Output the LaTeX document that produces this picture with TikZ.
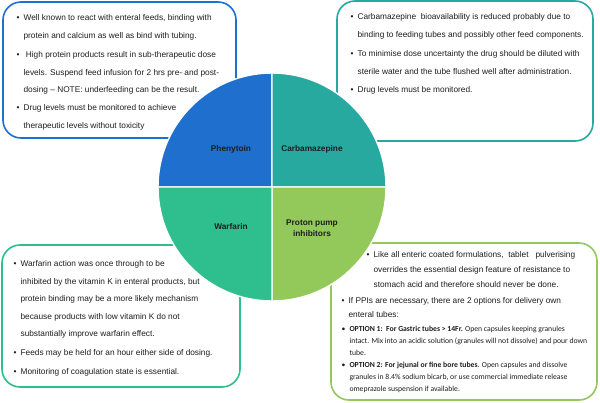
\documentclass[tikz,border=0pt]{standalone}
\usepackage{fontspec}
\setmainfont{Liberation Sans}
\newfontfamily\optfont{Carlito}

\definecolor{phencol}{HTML}{1F6FCF}
\definecolor{carbcol}{HTML}{27A99F}
\definecolor{warfcol}{HTML}{2FBE8E}
\definecolor{ppicol}{HTML}{93C85B}
\definecolor{txtcol}{HTML}{1E1E1E}

\newcommand{\bitem}[1]{\begin{tabular}[t]{@{}l@{\hspace{4pt}}l@{}}\textbullet & #1\end{tabular}}

\tikzset{
  box/.style={line width=1.6pt, rounded corners=18pt, fill=white},
  quad/.style={draw=white, line width=1.4pt},
  drug/.style={font=\fontsize{8.3}{11}\selectfont\bfseries, text=txtcol, align=center, inner sep=0pt},
  note/.style={anchor=base west, inner sep=0pt, text=txtcol, font=\fontsize{8.3}{17.5}\selectfont},
  notetight/.style={note, font=\fontsize{8.3}{15}\selectfont},
  optnote/.style={note, font=\optfont\fontsize{7.7}{12}\selectfont}
}

\begin{document}
\begin{tikzpicture}[x=1pt, y=-1pt]
\useasboundingbox (0,0) rectangle (600,402);

% text boxes
\draw[box, draw=phencol] (3,2) rectangle (236,138);
\draw[box, draw=carbcol] (337,1) rectangle (593,141);
\draw[box, draw=warfcol] (2,245) rectangle (240,387);
\draw[box, draw=ppicol] (331,243) rectangle (597,400);

% circle in four parts
\coordinate (c) at (272,187);
\filldraw[quad, fill=phencol] (c) -- +(180:114) arc[start angle=180, end angle=270, radius=114] -- cycle;
\filldraw[quad, fill=carbcol] (c) -- +(270:114) arc[start angle=270, end angle=360, radius=114] -- cycle;
\filldraw[quad, fill=ppicol] (c) -- +(0:114) arc[start angle=0, end angle=90, radius=114] -- cycle;
\filldraw[quad, fill=warfcol] (c) -- +(90:114) arc[start angle=90, end angle=180, radius=114] -- cycle;

\node[drug] (phen) at (231,149) {Phenytoin};
\node[drug] (carb) at (312,149) {Carbamazepine};
\node[drug] (warf) at (231,227) {Warfarin};
\node[drug] (ppi) at (312,228) {Proton pump\\inhibitors};

% phenytoin
\node[note] (p1) at (16.5,20.5) {\bitem{Well known to react with enteral feeds, binding with\\ & protein and calcium as well as bind with tubing.}};
\node[note] (p2) at (16.5,57.5) {\bitem{\ High protein products result in sub-therapeutic dose\\ & levels. Suspend feed infusion for 2 hrs pre- and post-\\ & dosing -- NOTE: underfeeding can be the result.}};
\node[note] (p3) at (16.5,110.5) {\bitem{Drug levels must be monitored to achieve\\ & therapeutic levels without toxicity}};

% carbamazepine
\node[note] (c1) at (350.5,19.5) {\bitem{Carbamazepine\ \ bioavailability is reduced probably due to\\ & binding to feeding tubes and possibly other feed components.}};
\node[note] (c2) at (350.5,56.5) {\bitem{To minimise dose uncertainty the drug should be diluted with\\ & sterile water and the tube flushed well after administration.}};
\node[note] (c3) at (350.5,92.5) {\bitem{Drug levels must be monitored.}};

% warfarin
\node[note] (w1) at (13.5,266.5) {\bitem{Warfarin action was once through to be\\ & inhibited by the vitamin K in enteral products, but\\ & protein binding may be a more likely mechanism\\ & because products with low vitamin K do not\\ & substantially improve warfarin effect.}};
\node[note] (w2) at (13.5,355.5) {\bitem{Feeds may be held for an hour either side of dosing.}};
\node[note] (w3) at (13.5,374.5) {\bitem{Monitoring of coagulation state is essential.}};

% proton pump inhibitors
\node[notetight] (i1) at (366.5,257.5) {\bitem{Like all enteric coated formulations,\ \ tablet\ \ \ pulverising\\ & overrides the essential design feature of resistance to\\ & stomach acid and therefore should never be done.}};
\node[note, font=\fontsize{8.3}{14}\selectfont] (i2) at (341.5,303.5) {\bitem{If PPIs are necessary, there are 2 options for delivery own\\ & enteral tubes:}};
\node[optnote] (i3) at (341.5,331) {\bitem{\textbf{OPTION 1:\ \ For Gastric tubes > 14Fr.} Open capsules keeping granules\\ & intact. Mix into an acidic solution (granules will not dissolve) and pour down\\ & tube.}};
\node[optnote] (i4) at (341.5,367) {\bitem{\textbf{OPTION 2: For jejunal or fine bore tubes}. Open capsules and dissolve\\ & granules in 8.4\% sodium bicarb, or use commercial immediate release\\ & omeprazole suspension if available.}};
\end{tikzpicture}
\end{document}
